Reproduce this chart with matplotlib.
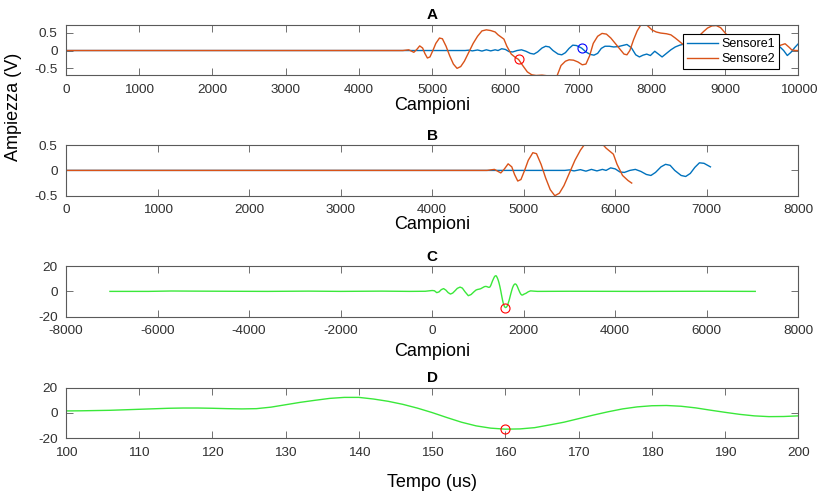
import numpy as np
import matplotlib
matplotlib.use("Agg")
import matplotlib.pyplot as plt
from matplotlib.ticker import FuncFormatter

plt.rcParams['font.family'] = ['Liberation Sans', 'DejaVu Sans']
plt.rcParams['axes.unicode_minus'] = False

# ---- Sensor traces: sample index and amplitude (V) ----
s1_idx = [0, 5450, 5500, 5550, 5620, 5680, 5740, 5800, 5860, 5900, 5950, 6000,
          6050, 6100, 6160, 6220, 6280, 6340, 6390, 6440, 6500, 6550, 6600,
          6650, 6720, 6770, 6820, 6870, 6920, 6970, 7040, 7100, 7160, 7210,
          7260, 7310, 7360, 7420, 7480, 7540, 7600, 7660, 7720, 7780, 7830,
          7880, 7930, 7980, 8040, 8090, 8140, 8200, 8260, 8320, 8380, 8440,
          8600, 8800, 9000, 9200, 9400, 9600, 9750, 9800, 9850, 9900, 9950,
          10000]
s1_val = [0.0, 0.0, 0.01, -0.01, 0.015, -0.015, 0.02, -0.01, 0.02, 0.0, 0.05,
          0.03, -0.03, -0.04, 0.0, 0.02, -0.02, -0.08, -0.10, -0.04, 0.07,
          0.12, 0.10, 0.0, -0.10, -0.12, -0.06, 0.06, 0.15, 0.14, 0.07, -0.04,
          -0.11, -0.13, -0.08, 0.06, 0.12, 0.12, 0.10, 0.11, 0.14, 0.17, 0.08,
          -0.12, -0.18, -0.13, -0.10, -0.14, -0.02, -0.10, -0.18, -0.08, 0.02,
          0.10, 0.15, 0.18, 0.0, -0.10, 0.10, -0.10, 0.10, -0.05, 0.10, 0.0,
          -0.14, -0.05, 0.08, 0.19]

s2_idx = [0, 4600, 4680, 4720, 4750, 4790, 4830, 4870, 4900, 4935, 4970, 5010,
          5050, 5100, 5140, 5190, 5240, 5290, 5340, 5390, 5440, 5500, 5560,
          5620, 5680, 5740, 5800, 5860, 5900, 5940, 5980, 6020, 6080, 6140,
          6180, 6240, 6300, 6360, 6420, 6500, 6580, 6650, 6700, 6760, 6820,
          6870, 6930, 6990, 7050, 7100, 7150, 7200, 7260, 7320, 7380, 7440,
          7500, 7560, 7620, 7660, 7700, 7750, 7800, 7850, 7900, 7950, 8000,
          8060, 8120, 8200, 8260, 8320, 8380, 8420, 8500, 8580, 8650, 8700,
          8760, 8820, 8880, 8940, 8990, 9040, 9150, 9300, 9450, 9600, 9700,
          9760, 9820, 9870, 9910, 9960, 10000]
s2_val = [0.0, 0.0, 0.02, -0.02, -0.05, 0.03, 0.13, 0.07, -0.08, -0.21, -0.18,
          0.0, 0.20, 0.35, 0.33, 0.12, -0.15, -0.38, -0.50, -0.45, -0.30,
          -0.05, 0.20, 0.40, 0.55, 0.58, 0.56, 0.52, 0.44, 0.38, 0.32, 0.12,
          -0.10, -0.20, -0.25, -0.43, -0.60, -0.68, -0.70, -0.69, -0.71,
          -0.72, -0.74, -0.42, -0.30, -0.26, -0.27, -0.32, -0.40, -0.38,
          -0.15, 0.20, 0.40, 0.48, 0.46, 0.35, 0.20, 0.05, -0.10, -0.12, 0.0,
          0.30, 0.55, 0.72, 0.76, 0.68, 0.58, 0.52, 0.49, 0.47, 0.44, 0.35,
          0.25, 0.18, 0.15, 0.30, 0.42, 0.52, 0.63, 0.69, 0.70, 0.64, 0.52,
          0.40, 0.20, 0.05, -0.05, 0.0, 0.10, 0.15, 0.19, 0.10, 0.02, 0.0, 0.0]

# Picked arrival samples
s1_pick = 7040
s2_pick = 6180

# ---- Cross-correlation (lag in samples) ----
corr_lag = [-7040, -6200, -5700, -5200, -4500, -3600, -2700, -2000, -1100,
            -500, -150, 0, 50, 100, 150, 200, 250, 300, 350, 400, 450, 500,
            550, 610, 660, 720, 790, 850, 920, 960,
            1000, 1020, 1040, 1060, 1080, 1100, 1120, 1140, 1160, 1180, 1200,
            1220, 1240, 1260, 1280, 1300, 1320, 1340, 1360, 1380, 1400, 1420,
            1440, 1460, 1480, 1500, 1520, 1540, 1560, 1580, 1600, 1620, 1640,
            1660, 1680, 1700, 1720, 1740, 1760, 1780, 1800, 1820, 1840, 1860,
            1880, 1900, 1920, 1940, 1960, 1980, 2000,
            2050, 2100, 2150, 2220, 2300, 3000, 4500, 6000, 7060]
corr_val = [0.0, 0.0, 0.3, 0.2, 0.1, 0.0, 0.2, 0.0, 0.2, 0.0, 0.1, 0.7, 0.5,
            -1.0, -0.4, 1.4, 2.2, 1.0, -1.0, -2.1, -1.3, 0.5, 2.4, 3.4, 2.6,
            -0.4, -3.4, -2.5, -0.1, 1.1,
            1.6, 1.7, 1.9, 2.1, 2.5, 2.9, 3.3, 3.7, 3.9, 3.9, 3.7,
            3.4, 3.2, 3.4, 4.6, 6.5, 8.4, 10.0, 11.5, 12.3, 12.3, 11.0,
            9.2, 6.8, 3.8, 0.3, -3.6, -7.3, -10.2, -12.0, -12.8, -12.6, -11.6,
            -9.5, -7.3, -4.5, -1.7, 0.9, 3.2, 4.8, 5.7, 5.9, 5.3, 4.0,
            2.2, 0.5, -1.1, -2.3, -2.9, -2.8, -2.3,
            -1.5, -0.3, 0.4, 0.2, 0.0, 0.1, 0.0, 0.1, 0.0]
corr_pick = 1600
dt_us = 0.1  # sampling period in microseconds

BLUE = '#0072BD'
ORANGE = '#D95319'
GREEN = '#3ae83a'
AX_COL = '#5a5a5a'
TICK_COL = '#303030'

plain = FuncFormatter(lambda v, pos: '%g' % v)


def upto(idx, val, stop):
    idx = np.asarray(idx)
    val = np.asarray(val)
    keep = idx <= stop
    return idx[keep], val[keep]


def value_at(idx, val, at):
    return val[list(idx).index(at)]


def style(ax, xlim, xticks, ylim, yticks):
    ax.set_xlim(*xlim)
    ax.set_ylim(*ylim)
    ax.set_xticks(xticks)
    ax.set_yticks(yticks)
    ax.xaxis.set_major_formatter(plain)
    ax.yaxis.set_major_formatter(plain)
    ax.tick_params(direction='in', length=5, width=0.6, top=True, right=True,
                   colors=AX_COL, labelcolor=TICK_COL, labelsize=9.7, pad=6)
    for sp in ax.spines.values():
        sp.set_color(AX_COL)
        sp.set_linewidth(0.8)


fig = plt.figure(figsize=(8.17, 4.94), dpi=100)
L, W, H = 0.0808, 0.8963, 0.1025
axA = fig.add_axes([L, 0.8472, W, H])
axB = fig.add_axes([L, 0.6038, W, H])
axC = fig.add_axes([L, 0.3589, W, H])
axD = fig.add_axes([L, 0.1128, W, H])

# A: full traces
axA.plot(s1_idx, s1_val, color=BLUE, lw=1.0, label='Sensore1')
axA.plot(s2_idx, s2_val, color=ORANGE, lw=1.0, label='Sensore2')
axA.plot(s2_pick, value_at(s2_idx, s2_val, s2_pick), 'o', mfc='none',
         mec='r', ms=6.5, mew=0.8)
axA.plot(s1_pick, value_at(s1_idx, s1_val, s1_pick), 'o', mfc='none',
         mec='b', ms=6.5, mew=0.8)
style(axA, (0, 10000), np.arange(0, 10001, 1000), (-0.7, 0.72), [-0.5, 0, 0.5])
axA.set_title('A', fontweight='bold', fontsize=11, pad=4)
axA.set_xlabel('Campioni', fontsize=13, labelpad=1)
leg = axA.legend(loc='upper right', bbox_to_anchor=(0.9736, 0.812),
                 borderaxespad=0, fontsize=9, fancybox=False, framealpha=1,
                 edgecolor='black', handlelength=2.5, handletextpad=0.3,
                 labelspacing=0.25, borderpad=0.3)
leg.get_frame().set_linewidth(0.8)

# B: traces up to the picked samples
bx1, by1 = upto(s1_idx, s1_val, s1_pick)
bx2, by2 = upto(s2_idx, s2_val, s2_pick)
axB.plot(bx1, by1, color=BLUE, lw=1.0)
axB.plot(bx2, by2, color=ORANGE, lw=1.0)
style(axB, (0, 8000), np.arange(0, 8001, 1000), (-0.5, 0.5), [-0.5, 0, 0.5])
axB.set_title('B', fontweight='bold', fontsize=11, pad=4)
axB.set_xlabel('Campioni', fontsize=13, labelpad=0)

# C: cross-correlation vs lag
axC.plot(corr_lag, corr_val, color=GREEN, lw=1.0)
axC.plot(corr_pick, value_at(corr_lag, corr_val, corr_pick), 'o', mfc='none',
         mec='r', ms=6.5, mew=0.8)
style(axC, (-8000, 8000), np.arange(-8000, 8001, 2000), (-20, 20), [-20, 0, 20])
axC.set_title('C', fontweight='bold', fontsize=11, pad=4)
axC.set_xlabel('Campioni', fontsize=13, labelpad=4)

# D: same correlation in microseconds
t_us = np.asarray(corr_lag) * dt_us
axD.plot(t_us, corr_val, color=GREEN, lw=1.0)
axD.plot(corr_pick * dt_us, value_at(corr_lag, corr_val, corr_pick), 'o',
         mfc='none', mec='r', ms=6.5, mew=0.8)
style(axD, (100, 200), np.arange(100, 201, 10), (-20, 20), [-20, 0, 20])
axD.set_title('D', fontweight='bold', fontsize=11, pad=4)
axD.set_xlabel('Tempo (us)', fontsize=13, labelpad=11)

fig.text(0.017, 0.783, 'Ampiezza (V)', rotation=90, fontsize=13,
         ha='center', va='center')

fig.savefig('out.png', dpi=100, facecolor='white')
